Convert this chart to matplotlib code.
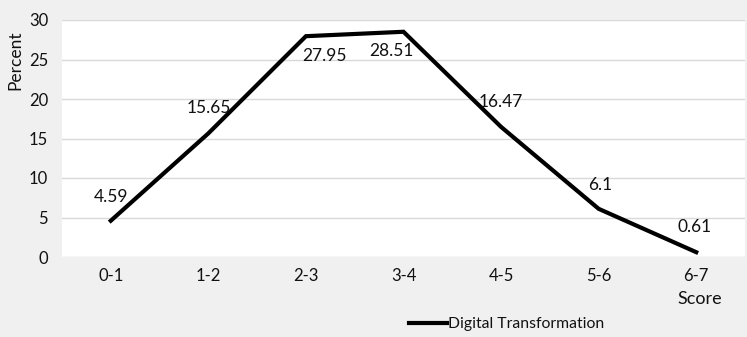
import matplotlib.pyplot as plt

# Datos del gráfico
categories = ['0-1', '1-2', '2-3', '3-4', '4-5', '5-6', '6-7']
values = [4.59, 15.65, 27.95, 28.51, 16.47, 6.1, 0.61]
value_labels = ['4.59', '15.65', '27.95', '28.51', '16.47', '6.1', '0.61']
yticks = [0, 5, 10, 15, 20, 25, 30]

# Desplazamientos (puntos) de las etiquetas de datos
label_offsets = [(0, 17), (0, 18), (13, -14), (-9, -14), (0, 18), (1, 17), (-1, 18)]

W, H, DPI = 747, 337, 100
BG = '#f0f0f0'
GRID = '#d9d9d9'
TXT = '#111111'

plt.rcParams['font.family'] = ['Lato', 'DejaVu Sans']

fig = plt.figure(figsize=(W / DPI, H / DPI), dpi=DPI, facecolor=BG)
ax = fig.add_axes([62 / W, 1 - 257 / H, (745 - 62) / W, (257 - 20) / H])
ax.set_facecolor('white')

x = list(range(len(categories)))
line, = ax.plot(x, values, color='black', linewidth=3, solid_joinstyle='miter',
                label='Digital Transformation')

for xi, v, txt, (dx, dy) in zip(x, values, value_labels, label_offsets):
    ax.annotate(txt, (xi, v), xytext=(dx, dy), textcoords='offset points',
                ha='center', va='center', fontsize=12.5, color=TXT)

ax.set_xlim(-0.5, len(categories) - 0.5)
ax.set_ylim(0, 30)
ax.set_yticks(yticks)
ax.set_xticks(x)
ax.set_xticklabels(categories)
ax.tick_params(axis='both', length=0, labelsize=12, colors=TXT)
ax.tick_params(axis='x', pad=8)
ax.tick_params(axis='y', pad=10)
ax.grid(axis='y', color=GRID, linewidth=1)
ax.set_axisbelow(True)
for s in ax.spines.values():
    s.set_visible(False)

fig.text(15 / W, 1 - 60 / H, 'Percent', rotation=90, ha='center', va='center',
         fontsize=12.5, color=TXT)
fig.text(700 / W, 1 - 299 / H, 'Score', ha='center', va='center',
         fontsize=13, color=TXT)

fig.legend(handles=[line], loc='center', bbox_to_anchor=(507 / W, 1 - 324 / H),
           frameon=False, fontsize=11.3, handlelength=2.4, handletextpad=0.1,
           borderaxespad=0, labelcolor=TXT)

fig.savefig('out.png', dpi=DPI, facecolor=BG)
